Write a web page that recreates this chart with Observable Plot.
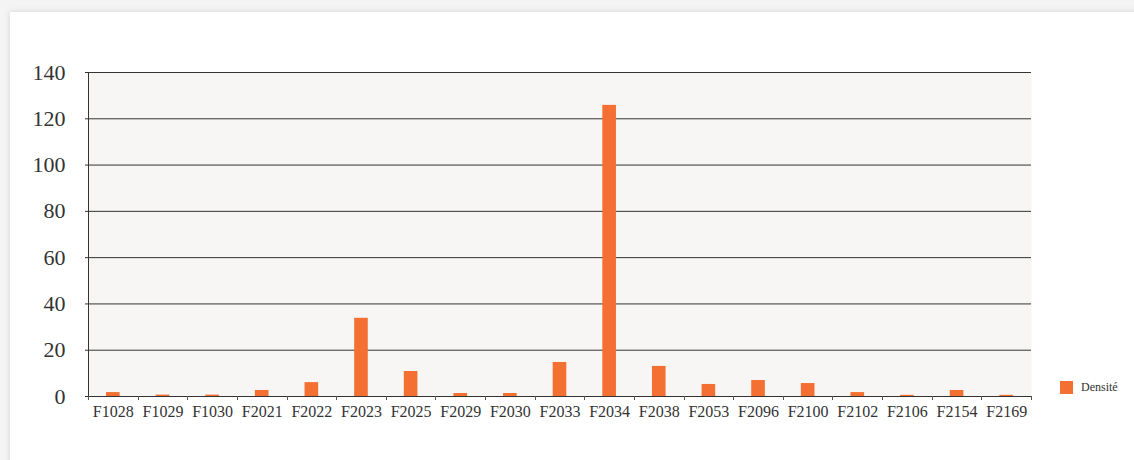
<!DOCTYPE html>
<html><head><meta charset="utf-8">
<script src="https://cdn.jsdelivr.net/npm/d3@7"></script>
<script src="https://cdn.jsdelivr.net/npm/@observablehq/plot@0.6"></script>
<style>
html,body{margin:0;padding:0;background:#f4f4f4;width:1134px;height:460px;overflow:hidden}
#card{position:absolute;left:10px;top:12px;width:1200px;height:520px;background:#fff;box-shadow:0 0 6px rgba(0,0,0,0.14)}
#chart{position:absolute;left:0;top:0}
#legend{position:absolute;left:1060px;top:381px;font:12px "Liberation Serif",serif;color:#333;display:flex;align-items:center;line-height:13px}
#legend .sw{display:inline-block;width:13px;height:13px;background:#f37032;margin-right:8px}
</style></head><body>
<div id="card"></div>
<div id="chart"></div>
<div id="legend"><span class="sw"></span><span id="lname"></span></div>
<script>
const categories = ["F1028","F1029","F1030","F2021","F2022","F2023","F2025","F2029","F2030","F2033","F2034","F2038","F2053","F2096","F2100","F2102","F2106","F2154","F2169"];
const densite = [1.7,0.6,0.6,2.6,6,33.8,10.8,1.3,1.3,14.7,125.8,13,5.2,6.9,5.6,1.7,0.5,2.6,0.5];
const yTicks = [0,20,40,60,80,100,120,140];
const seriesName = "Densité";
const barColor = "#f37032";

const data = categories.map((c, i) => ({cat: c, value: densite[i]}));
document.getElementById("lname").textContent = seriesName;

// custom mark: vertical axis line and band-boundary ticks on x axis
function bandTicks(index, scales) {
  const svgns = "http://www.w3.org/2000/svg";
  const g = document.createElementNS(svgns, "g");
  const x = scales.x, y = scales.y;
  const bw = x.bandwidth();
  const y0 = y(0), yTop = y(yTicks[yTicks.length - 1]);
  const edges = categories.map(c => x(c)).concat([x(categories[categories.length - 1]) + bw]);
  for (const e of edges) {
    const l = document.createElementNS(svgns, "line");
    const px = Math.round(e) + 0.5;
    l.setAttribute("x1", px); l.setAttribute("x2", px);
    l.setAttribute("y1", y0); l.setAttribute("y2", y0 + 4);
    l.setAttribute("stroke", "#555");
    g.appendChild(l);
  }
  const v = document.createElementNS(svgns, "line");
  const vx = Math.round(x(categories[0])) + 0.5;
  v.setAttribute("x1", vx); v.setAttribute("x2", vx);
  v.setAttribute("y1", yTop); v.setAttribute("y2", y0);
  v.setAttribute("stroke", "#333");
  g.appendChild(v);
  return g;
}

const chart = Plot.plot({
  width: 1134,
  height: 460,
  marginLeft: 88,
  marginRight: 103,
  marginTop: 72,
  marginBottom: 64,
  style: {background: "transparent", fontFamily: "'Liberation Serif', serif", color: "#333"},
  x: {domain: categories, padding: 0, round: false, label: null},
  y: {domain: [0, 140], label: null},
  marks: [
    Plot.frame({fill: "#f7f6f4", stroke: null}),
    Plot.ruleY(yTicks, {stroke: "#333", strokeWidth: 1}),
    Plot.barY(data, {x: "cat", y: "value", fill: barColor, insetLeft: 18, insetRight: 18}),
    Plot.axisY({ticks: yTicks, tickSize: 3, tickPadding: 20, fontSize: 22, label: null, stroke: "#333", fill: "#333"}),
    Plot.axisX({tickSize: 0, tickPadding: 9, fontSize: 16, label: null, fill: "#333"}),
    bandTicks
  ]
});
document.getElementById("chart").appendChild(chart);
</script>
</body></html>
